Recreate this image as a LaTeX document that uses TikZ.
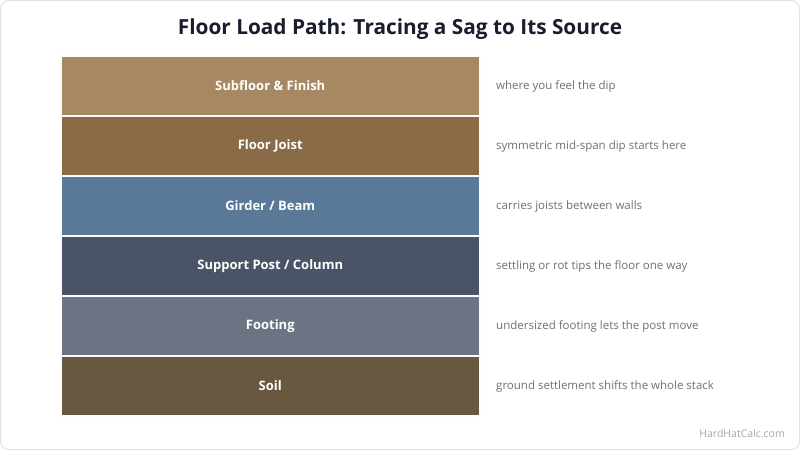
\documentclass[tikz,border=0pt]{standalone}
\usepackage{fontspec}
\setmainfont{Open Sans}
\definecolor{cSub}{HTML}{A68962}
\definecolor{cJoist}{HTML}{8A6B47}
\definecolor{cGird}{HTML}{5A7898}
\definecolor{cPost}{HTML}{4A5466}
\definecolor{cFoot}{HTML}{6C7484}
\definecolor{cSoil}{HTML}{685840}
\definecolor{cTitle}{HTML}{1A1D2E}
\definecolor{cNote}{HTML}{707070}
\definecolor{cWm}{HTML}{A8A8A8}
\definecolor{cBorder}{HTML}{E2E2E2}
\begin{document}
\begin{tikzpicture}[x=1pt,y=-1pt,
  layer/.style={draw=white!88!black!10, line width=1.5pt, minimum width=419pt, minimum height=60pt, inner sep=0pt, anchor=north west, text=white, font=\fontsize{13}{15}\selectfont\bfseries},
  note/.style={anchor=west, inner sep=0pt, text=cNote, font=\fontsize{11.5}{14}\selectfont}]
\useasboundingbox (0,0) rectangle (800,450);
\draw[cBorder, line width=1pt, rounded corners=8pt, fill=white] (0.5,0.5) rectangle (799.5,449.5);
\node[inner sep=0pt, text=cTitle, font=\fontsize{20.8}{24}\selectfont\bfseries] (title) at (400,29.5) {Floor Load Path: Tracing a Sag to Its Source};
\node[layer, fill=cSub] (l1) at (60,55) {Subfloor \& Finish};
\node[layer, fill=cJoist] (l2) at (60,115) {Floor Joist};
\node[layer, fill=cGird] (l3) at (60,175) {Girder / Beam};
\node[layer, fill=cPost] (l4) at (60,235) {Support Post / Column};
\node[layer, fill=cFoot] (l5) at (60,295) {Footing};
\node[layer, fill=cSoil] (l6) at (60,355) {Soil};
\node[note] (n1) at (496,86.5) {where you feel the dip};
\node[note] (n2) at (496,146.5) {symmetric mid-span dip starts here};
\node[note] (n3) at (496,206.5) {carries joists between walls};
\node[note] (n4) at (496,266.5) {settling or rot tips the floor one way};
\node[note] (n5) at (496,326.5) {undersized footing lets the post move};
\node[note] (n6) at (496,386.5) {ground settlement shifts the whole stack};
\node[anchor=east, inner sep=0pt, text=cWm, font=\fontsize{10.5}{12}\selectfont] (wm) at (785,434) {HardHatCalc.com};
\end{tikzpicture}
\end{document}
